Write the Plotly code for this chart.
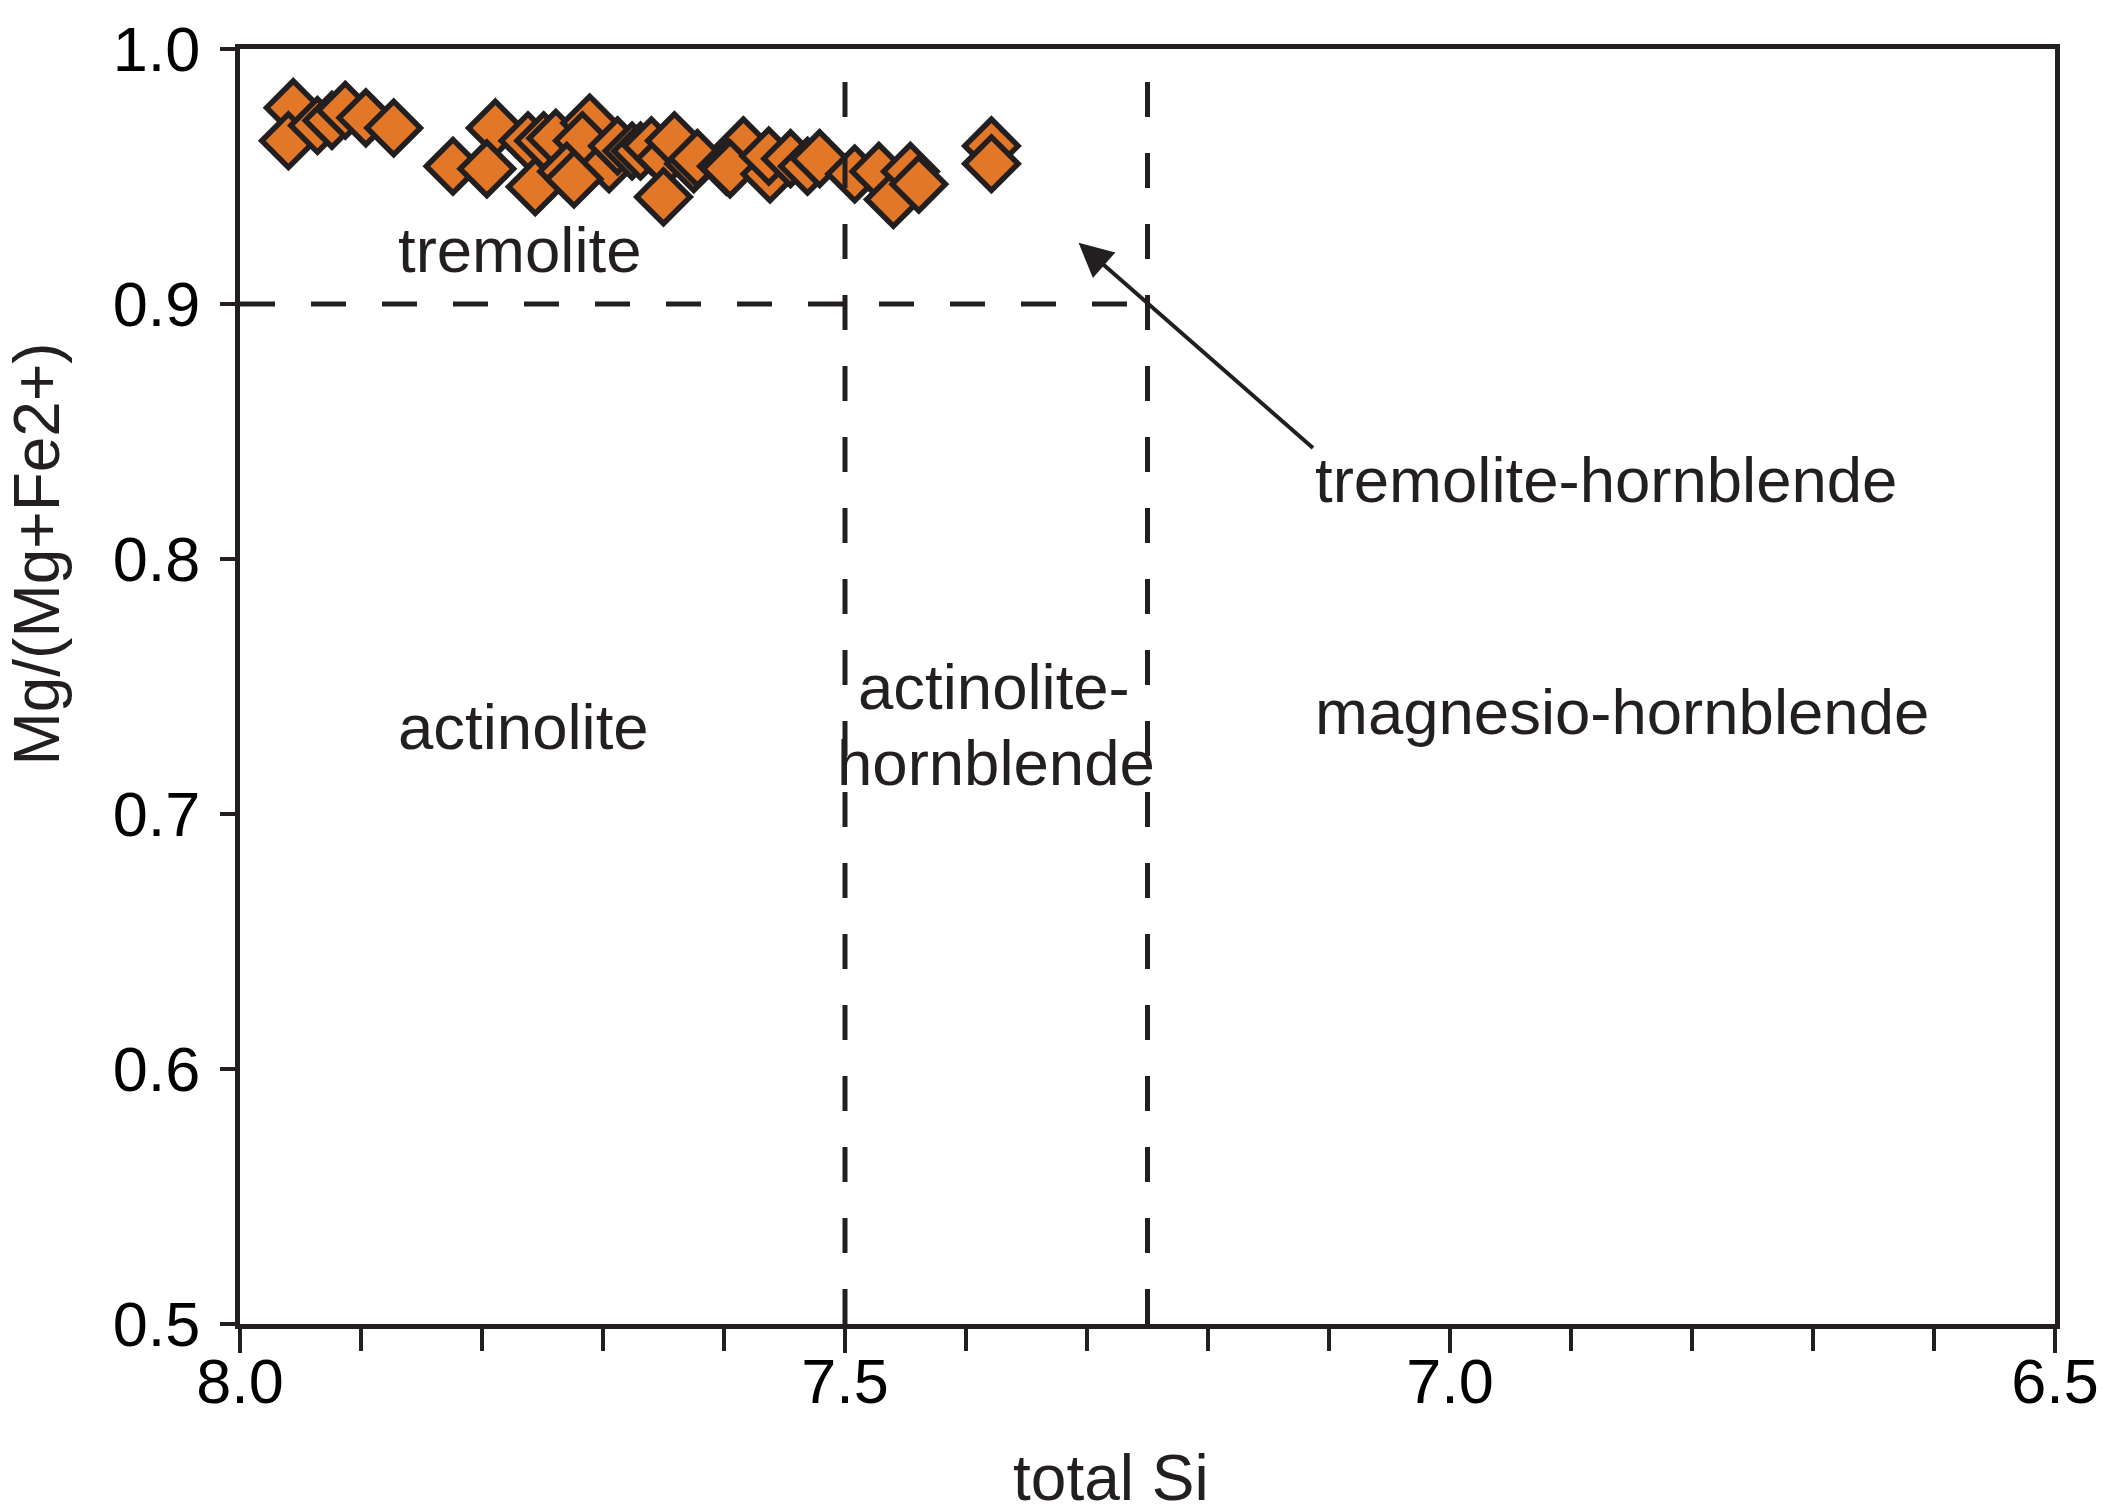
import plotly.graph_objects as go

# ---- data ----
si_total = [7.956, 7.960, 7.936, 7.924, 7.913, 7.896, 7.873, 7.824, 7.789, 7.796,
            7.762, 7.749, 7.756, 7.739, 7.711, 7.717, 7.730, 7.695, 7.688, 7.724,
            7.676, 7.669, 7.660, 7.649, 7.650, 7.641, 7.625, 7.622, 7.584, 7.598,
            7.595, 7.562, 7.563, 7.545, 7.531, 7.521, 7.492, 7.472, 7.460, 7.446,
            7.439, 7.379, 7.379]
mg_ratio = [0.977, 0.964, 0.970, 0.972, 0.976, 0.973, 0.969, 0.954, 0.969, 0.953,
            0.964, 0.964, 0.946, 0.965, 0.971, 0.964, 0.952, 0.955, 0.962, 0.949,
            0.960, 0.960, 0.962, 0.957, 0.942, 0.964, 0.955, 0.957, 0.962, 0.954,
            0.953, 0.951, 0.958, 0.957, 0.954, 0.957, 0.951, 0.952, 0.941, 0.952,
            0.947, 0.962, 0.955]

x_range = [8.0, 6.5]
y_range = [0.5, 1.0]
x_major_ticks = [8.0, 7.5, 7.0, 6.5]
x_tick_labels = ["8.0", "7.5", "7.0", "6.5"]
y_ticks = [0.5, 0.6, 0.7, 0.8, 0.9, 1.0]
y_tick_labels = ["0.5", "0.6", "0.7", "0.8", "0.9", "1.0"]

x_title = "total Si"
y_title = "Mg/(Mg+Fe2+)"

# field boundaries
vertical_bounds = [7.5, 7.25]
horizontal_bound_y = 0.9
horizontal_bound_x = [8.0, 7.25]

field_labels = ["tremolite", "actinolite", "actinolite-", "hornblende",
                "tremolite-hornblende", "magnesio-hornblende"]
field_label_x = [7.871, 7.871, 7.377, 7.375, 7.113, 7.113]
field_label_y = [0.921, 0.734, 0.750, 0.720, 0.831, 0.740]
field_label_anchor = ["left", "left", "center", "center", "left", "left"]

arrow_tail = (7.112, 0.843)
arrow_head = (7.307, 0.924)

INK = "#231f20"
ORANGE = "#e27727"
FONT = "Liberation Sans, Arial, sans-serif"

fig = go.Figure()

fig.add_trace(go.Scatter(
    x=si_total, y=mg_ratio, mode="markers",
    marker=dict(symbol="diamond", size=41, color=ORANGE,
                line=dict(color=INK, width=5.5)),
    cliponaxis=False, showlegend=False, hoverinfo="x+y"))

for xv in vertical_bounds:
    fig.add_shape(type="line", x0=xv, x1=xv, y0=y_range[0], y1=y_range[1],
                  xref="x", yref="y", line=dict(color=INK, width=5, dash="35px,36px"))
fig.add_shape(type="line", x0=horizontal_bound_x[0], x1=horizontal_bound_x[1],
              y0=horizontal_bound_y, y1=horizontal_bound_y, xref="x", yref="y",
              line=dict(color=INK, width=5, dash="35px,36px"))

for txt, xv, yv, anc in zip(field_labels, field_label_x, field_label_y, field_label_anchor):
    fig.add_annotation(x=xv, y=yv, text=txt, showarrow=False, xanchor=anc,
                       yanchor="middle", font=dict(family=FONT, size=63.5, color=INK))

fig.add_annotation(x=arrow_head[0], y=arrow_head[1], ax=arrow_tail[0], ay=arrow_tail[1],
                   xref="x", yref="y", axref="x", ayref="y", text="", showarrow=True,
                   arrowhead=2, arrowsize=1.7, arrowwidth=4, arrowcolor=INK,
                   standoff=0, startstandoff=0)

# axis titles placed as annotations (reference title positions are off-centre)
fig.add_annotation(x=0.480, y=-0.1208, xref="paper", yref="paper", text=x_title,
                   showarrow=False, xanchor="center", yanchor="middle",
                   font=dict(family=FONT, size=64, color=INK))
fig.add_annotation(x=-0.112, y=0.604, xref="paper", yref="paper", text=y_title,
                   showarrow=False, xanchor="center", yanchor="middle", textangle=-90,
                   font=dict(family=FONT, size=64, color=INK))

# page body has an 8px margin, so the figure is slightly smaller than the window
fig.update_layout(
    width=2096, height=1495,
    margin=dict(l=232, r=49, t=41, b=179, autoexpand=False),
    paper_bgcolor="white", plot_bgcolor="white",
    font=dict(family=FONT, size=63, color=INK),
    showlegend=False,
)

fig.update_xaxes(
    range=x_range, tickvals=x_major_ticks, ticktext=x_tick_labels,
    showgrid=False, zeroline=False, automargin=False,
    showline=True, linecolor=INK, linewidth=5, mirror=True,
    ticks="outside", ticklen=24, tickwidth=4, tickcolor=INK,
    ticklabelstandoff=-26,
    tickfont=dict(family=FONT, size=63, color="black"),
    minor=dict(dtick=0.1, tick0=8.0, ticks="outside", ticklen=22, tickwidth=4,
               tickcolor=INK, showgrid=False),
)

fig.update_yaxes(
    range=y_range, tickvals=y_ticks, ticktext=y_tick_labels,
    showgrid=False, zeroline=False, automargin=False,
    showline=True, linecolor=INK, linewidth=5, mirror=True,
    ticks="outside", ticklen=15, tickwidth=4, tickcolor=INK,
    ticklabelstandoff=7,
    tickfont=dict(family=FONT, size=63, color="black"),
)

fig.write_html("out.html")
